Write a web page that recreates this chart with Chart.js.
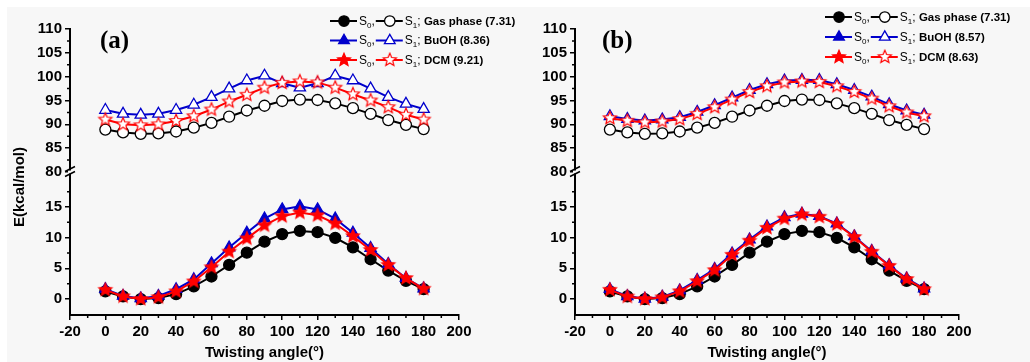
<!DOCTYPE html>
<html><head><meta charset="utf-8">
<script src="https://cdn.jsdelivr.net/npm/chart.js@4.4.1/dist/chart.umd.min.js"></script>
<style>
html,body{margin:0;padding:0;background:#fff;}
#wrap{position:relative;width:1030px;height:362px;overflow:hidden;}
#bg{position:absolute;left:7px;top:7px;right:0;bottom:0;background:#f7f7f7;}
.pane{position:absolute;top:0;width:515px;height:362px;}
</style></head><body>
<div id="wrap"><div id="bg"></div>
<div class="pane" style="left:0"><canvas id="ca" width="515" height="362"></canvas></div>
<div class="pane" style="left:515px"><canvas id="cb" width="515" height="362"></canvas></div>
</div>
<script>
// ---------- data ----------
const angles = [0,10,20,30,40,50,60,70,80,90,100,110,120,130,140,150,160,170,180];
const xTicks = [-20,0,20,40,60,80,100,120,140,160,180,200];
const yLowTicks = [0,5,10,15];
const yHighTicks = [80,85,90,95,100,105,110];

const gasS0 = [1.24,0.43,0,0.16,0.8,2.05,3.67,5.56,7.55,9.34,10.58,11.1,10.9,9.98,8.42,6.48,4.64,2.97,1.62];
const gasS1 = [88.9,88.3,88.0,88.1,88.5,89.3,90.3,91.6,92.9,93.9,94.9,95.2,95.1,94.4,93.4,92.2,90.9,89.9,89.0];

const buohS0A = [1.6,0.5,0.1,0.5,1.6,3.2,5.8,8.4,10.8,13.1,14.6,15.1,14.6,13.1,10.8,8.3,5.7,3.4,1.7];
const buohS1A = [93.0,92.2,92.0,92.2,93.0,94.1,95.7,97.5,99.2,100.2,98.6,97.7,98.6,100.2,99.2,97.5,95.7,94.3,93.2];
const dcmS0A  = [1.5,0.43,0,0.3,1.24,2.86,5.18,7.72,9.88,12.0,13.5,14.1,13.65,12.3,10.25,8.0,5.56,3.4,1.67];
const dcmS1A  = [91.0,90.0,89.8,90.0,90.7,91.7,93.1,94.8,96.2,97.7,98.7,99.0,98.8,97.7,96.3,95.0,93.6,92.0,91.0];

const buohS0B = [1.6,0.45,0.05,0.35,1.4,3.1,4.9,7.4,9.7,11.8,13.3,13.9,13.5,12.3,10.2,7.8,5.5,3.35,1.7];
const buohS1B = [91.7,91.1,90.8,91.0,91.5,92.6,94.0,95.6,97.2,98.4,99.2,99.3,99.3,98.4,97.2,95.8,94.2,92.9,92.0];
const dcmS0B  = [1.5,0.4,0,0.27,1.25,2.9,4.7,7.2,9.5,11.6,13.1,13.8,13.4,12.2,10.1,7.7,5.4,3.25,1.6];
const dcmS1B  = [91.3,90.75,90.4,90.6,91.1,92.2,93.6,95.2,96.8,98.0,98.8,99.0,98.9,98.0,96.8,95.4,93.8,92.5,91.7];

const legendA = ['Gas phase (7.31)','BuOH (8.36)','DCM (9.21)'];
const legendB = ['Gas phase (7.31)','BuOH (8.57)','DCM (8.63)'];

// ---------- styles ----------
const FONT = '"Liberation Sans", Arial, sans-serif';
const BLACK = '#000000', BLUE = '#0000cc', RED = '#ff0000';

function makeStar(fill, stroke, R) {
  const s = 2 * Math.ceil(R + 2);
  const c = document.createElement('canvas'); c.width = c.height = s;
  const g = c.getContext('2d'); g.translate(s / 2, s / 2); g.beginPath();
  for (let i = 0; i < 10; i++) {
    const r = i % 2 ? R * 0.45 : R; const a = -Math.PI / 2 + i * Math.PI / 5;
    g.lineTo(r * Math.cos(a), r * Math.sin(a));
  }
  g.closePath(); g.fillStyle = fill; g.fill(); g.lineWidth = 1.2; g.strokeStyle = stroke; g.stroke();
  return c;
}
const starFilled = makeStar(RED, RED, 6.8);
const starOpen = makeStar('#ffffff', RED, 6.8);

const marker = {
  gas0: {pointStyle: 'circle', radius: 5.5, fill: BLACK, stroke: BLACK},
  gas1: {pointStyle: 'circle', radius: 5.5, fill: '#ffffff', stroke: BLACK},
  bu0: {pointStyle: 'triangle', radius: 6.5, fill: BLUE, stroke: BLUE},
  bu1: {pointStyle: 'triangle', radius: 6.5, fill: '#ffffff', stroke: BLUE},
  dc0: {pointStyle: starFilled, radius: 6, fill: RED, stroke: RED},
  dc1: {pointStyle: starOpen, radius: 6, fill: '#ffffff', stroke: RED},
};

function ds(values, yAxisID, color, m, order) {
  return {
    data: angles.map((a, i) => ({x: a, y: values[i]})),
    yAxisID, borderColor: color, borderWidth: 2, order,
    pointStyle: m.pointStyle, pointRadius: m.radius,
    pointBackgroundColor: m.fill, pointBorderColor: m.stroke, pointBorderWidth: 1.3,
    fill: false, tension: 0,
  };
}

function tickFont() { return {family: FONT, size: 15, weight: 'bold'}; }

function yScale(min, max, ticks, W) {
  return {
    type: 'linear', position: 'left', stack: 'ystack', stackWeight: 1,
    min, max,
    afterBuildTicks: s => { s.ticks = ticks.map(v => ({value: v})); },
    afterFit: s => { s.width = W; },
    grid: {display: true, drawOnChartArea: false, drawTicks: true, tickLength: 5, color: BLACK, lineWidth: 1.5},
    border: {display: true, color: BLACK, width: 2},
    ticks: {color: BLACK, font: tickFont(), padding: 3, autoSkip: false},
  };
}

const extras = {
  id: 'extras',
  afterDraw(chart, args, opts) {
    const ctx = chart.ctx;
    const xs = chart.scales.x, yl = chart.scales.yLow, yh = chart.scales.yHigh;
    const area = chart.chartArea;
    ctx.save();
    // minor ticks
    ctx.strokeStyle = BLACK; ctx.lineWidth = 1.5;
    ctx.beginPath();
    for (let v = -10; v < 200; v += 20) {
      const p = xs.getPixelForValue(v);
      ctx.moveTo(p, area.bottom); ctx.lineTo(p, area.bottom + 3);
    }
    [2.5, 7.5, 12.5, 17.5].forEach(v => {
      const p = yl.getPixelForValue(v); ctx.moveTo(area.left, p); ctx.lineTo(area.left - 3, p);
    });
    for (let v = 82.5; v < 110; v += 5) {
      const p = yh.getPixelForValue(v); ctx.moveTo(area.left, p); ctx.lineTo(area.left - 3, p);
    }
    ctx.stroke();
    // axis break mark
    const by = (yh.bottom + yl.top) / 2, bx = area.left;
    ctx.fillStyle = '#f7f7f7';
    ctx.fillRect(bx - 2, by - 1.5, 4, 3);
    ctx.strokeStyle = BLACK; ctx.lineWidth = 1.5;
    ctx.beginPath();
    ctx.moveTo(bx - 5, by - 0.5); ctx.lineTo(bx + 5, by - 5.5);
    ctx.moveTo(bx - 5, by + 4.5); ctx.lineTo(bx + 5, by - 0.5);
    ctx.stroke();
    // panel label
    ctx.fillStyle = BLACK; ctx.textBaseline = 'alphabetic'; ctx.textAlign = 'left';
    ctx.font = 'bold 25px "Liberation Serif", "Times New Roman", serif';
    ctx.fillText(opts.panel, opts.panelX, opts.panelY);
    // y title
    if (opts.yTitle) {
      ctx.save();
      ctx.translate(opts.yTitleX, opts.yTitleY); ctx.rotate(-Math.PI / 2);
      ctx.font = 'bold 15px ' + FONT; ctx.textAlign = 'center'; ctx.textBaseline = 'middle';
      ctx.fillText(opts.yTitle, 0, 0);
      ctx.restore();
    }
    // legend
    const rows = [
      [BLACK, marker.gas0, marker.gas1],
      [BLUE, marker.bu0, marker.bu1],
      [RED, marker.dc0, marker.dc1],
    ];
    rows.forEach((r, i) => {
      const y = opts.legY + i * opts.legDy;
      let x = opts.legX;
      const seg = (m) => {
        ctx.strokeStyle = r[0]; ctx.lineWidth = 2;
        ctx.beginPath(); ctx.moveTo(x, y); ctx.lineTo(x + 27, y); ctx.stroke();
        ctx.fillStyle = m.fill; ctx.strokeStyle = m.stroke; ctx.lineWidth = 1.3;
        Chart.helpers.drawPoint(ctx, {pointStyle: m.pointStyle, radius: m.radius * 0.95, borderWidth: 1.3, rotation: 0}, x + 14, y);
        x += 29;
      };
      const txt = (s, font, dy) => {
        ctx.fillStyle = BLACK; ctx.font = font; ctx.textBaseline = 'middle'; ctx.textAlign = 'left';
        ctx.fillText(s, x, y + dy); x += ctx.measureText(s).width;
      };
      seg(r[1]);
      txt('S', '12px ' + FONT, 0.5); txt('0', '8px ' + FONT, 4.5); txt(',', '12px ' + FONT, 0.5);
      x += 1;
      seg(r[2]);
      txt('S', '12px ' + FONT, 0.5); txt('1', '8px ' + FONT, 4.5); txt('; ', '12px ' + FONT, 0.5);
      txt(opts.labels[i], 'bold 11.5px ' + FONT, 0.5);
    });
    ctx.restore();
  }
};

function makeChart(id, sets, padLeft, padRight, extraOpts) {
  return new Chart(document.getElementById(id), {
    type: 'line',
    data: {datasets: sets},
    options: {
      responsive: false, animation: false, devicePixelRatio: 1,
      layout: {padding: {left: padLeft, right: padRight, top: 29, bottom: 0}},
      plugins: {legend: {display: false}, tooltip: {enabled: false}, extras: extraOpts},
      scales: {
        x: {
          type: 'linear', min: -20, max: 200,
          afterBuildTicks: s => { s.ticks = xTicks.map(v => ({value: v})); },
          afterFit: s => { s.height = 47; },
          grid: {display: true, drawOnChartArea: false, drawTicks: true, tickLength: 5, color: BLACK, lineWidth: 1.5},
          border: {display: true, color: BLACK, width: 2},
          ticks: {color: BLACK, font: tickFont(), padding: 3, maxRotation: 0, autoSkip: false},
          title: {display: true, text: 'Twisting angle(°)', color: BLACK, font: {family: FONT, size: 15, weight: 'bold'}, padding: {top: 0, bottom: 0}},
        },
        yLow: yScale(-2.6, 20.7, yLowTicks, 45),
        yHigh: yScale(80, 110, yHighTicks, 45),
      },
    },
    plugins: [extras],
  });
}

makeChart('ca', [
  ds(gasS0, 'yLow', BLACK, marker.gas0, 3),
  ds(gasS1, 'yHigh', BLACK, marker.gas1, 3),
  ds(buohS0A, 'yLow', BLUE, marker.bu0, 2),
  ds(buohS1A, 'yHigh', BLUE, marker.bu1, 2),
  ds(dcmS0A, 'yLow', RED, marker.dc0, 1),
  ds(dcmS1A, 'yHigh', RED, marker.dc1, 1),
], 25, 56, {panel: '(a)', panelX: 100, panelY: 48, yTitle: 'E(kcal/mol)', yTitleX: 20, yTitleY: 187,
  legX: 330, legY: 21, legDy: 19.5, labels: legendA});

makeChart('cb', [
  ds(gasS0, 'yLow', BLACK, marker.gas0, 3),
  ds(gasS1, 'yHigh', BLACK, marker.gas1, 3),
  ds(buohS0B, 'yLow', BLUE, marker.bu0, 2),
  ds(buohS1B, 'yHigh', BLUE, marker.bu1, 2),
  ds(dcmS0B, 'yLow', RED, marker.dc0, 1),
  ds(dcmS1B, 'yHigh', RED, marker.dc1, 1),
], 15, 71, {panel: '(b)', panelX: 87, panelY: 48, yTitle: null,
  legX: 310, legY: 17, legDy: 20, labels: legendB});
</script>
</body></html>
